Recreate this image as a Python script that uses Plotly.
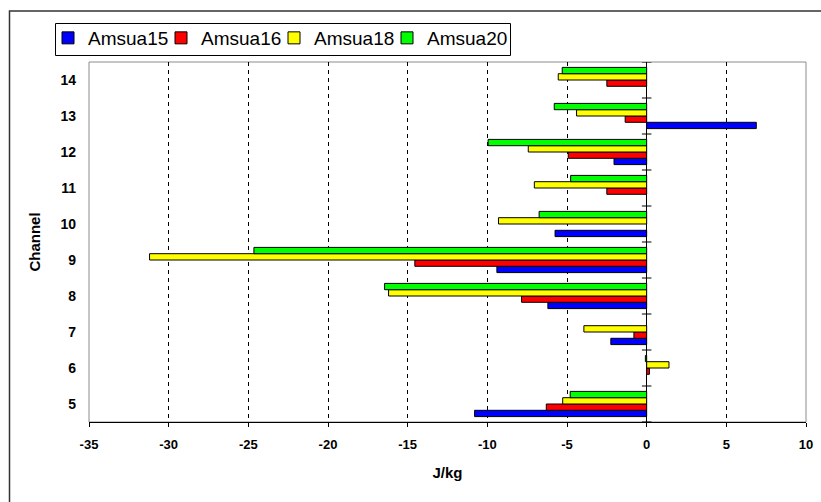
import plotly.graph_objects as go

# Channel numbers and per-satellite values (J/kg); None = no bar drawn
channels = [5, 6, 7, 8, 9, 10, 11, 12, 13, 14]
amsua15 = [-10.8, None, -2.25, -6.2, -9.4, -5.75, None, -2.05, 6.88, None]
amsua16 = [-6.3, 0.17, -0.8, -7.85, -14.55, None, -2.5, -4.92, -1.35, -2.5]
amsua18 = [-5.27, 1.4, -3.94, -16.2, -31.2, -9.3, -7.05, -7.43, -4.4, -5.55]
amsua20 = [-4.8, -0.08, None, -16.45, -24.65, -6.75, -4.77, -9.95, -5.8, -5.3]

series = [
    ("Amsua15", amsua15, "#0000FF"),
    ("Amsua16", amsua16, "#FF0000"),
    ("Amsua18", amsua18, "#FFFF00"),
    ("Amsua20", amsua20, "#00FF00"),
]

x_ticks = [-35, -30, -25, -20, -15, -10, -5, 0, 5, 10]

fig = go.Figure()
for i, (name, vals, color) in enumerate(series):
    fig.add_trace(go.Bar(
        y=channels, x=vals, orientation="h", name=name,
        marker=dict(color=color, line=dict(color="black", width=1)),
        # last legend entry gets room for its full label
        legendwidth=90 if i == len(series) - 1 else 68,
    ))

W, H = 821, 502
L, R, T, B = 89, 15, 62, 80
pw, ph = W - L - R, H - T - B


def px_x(p):
    """pixel column -> paper x"""
    return (p - L) / pw


def px_y(p):
    """pixel row -> paper y"""
    return (H - B - p) / ph


shapes = []
# plot-area frame (grey)
shapes.append(dict(type="rect", xref="paper", yref="paper", x0=0, x1=1, y0=0, y1=1,
                   line=dict(color="#8c8c8c", width=1), layer="below"))
# outer chart border
shapes.append(dict(type="rect", xref="paper", yref="paper",
                   x0=px_x(9.5), x1=px_x(W + 10), y0=px_y(H + 10), y1=px_y(11),
                   line=dict(color="#333333", width=1.5), layer="below"))
# legend box
shapes.append(dict(type="rect", xref="paper", yref="paper",
                   x0=px_x(55.5), x1=px_x(510.5), y0=px_y(55.5), y1=px_y(23.5),
                   line=dict(color="black", width=1), fillcolor="white", layer="below"))
# cross tick marks on the vertical axis at x = 0, at channel boundaries
for c in channels + [channels[0] - 1]:
    shapes.append(dict(type="line", xref="x", yref="y", x0=-0.3, x1=0.3,
                       y0=c + 0.5, y1=c + 0.5, line=dict(color="black", width=1)))

fig.update_layout(
    width=W, height=H,
    margin=dict(l=L, r=R, t=T, b=B, pad=0, autoexpand=False),
    paper_bgcolor="white", plot_bgcolor="white",
    barmode="group", bargap=0.3, bargroupgap=0,
    font=dict(family="Liberation Sans, Arial, sans-serif", color="black"),
    shapes=shapes,
    showlegend=True,
    legend=dict(
        orientation="h", x=px_x(48), y=px_y(19),
        xanchor="left", yanchor="top",
        borderwidth=0, bgcolor="rgba(0,0,0,0)",
        font=dict(size=19), traceorder="normal",
        itemwidth=30,
    ),
    xaxis=dict(
        range=[-35, 10], tickvals=x_ticks, ticktext=[str(v) for v in x_ticks],
        showgrid=True, gridcolor="black", griddash="4px,4px", gridwidth=1,
        zeroline=True, zerolinecolor="black", zerolinewidth=1,
        showline=True, linecolor="black", linewidth=1,
        ticks="outside", ticklen=4, tickcolor="black",
        tickfont=dict(size=13, weight="bold"), ticklabelstandoff=6,
        title=dict(text="J/kg", font=dict(size=15, weight="bold"), standoff=16),
        automargin=False, fixedrange=True,
    ),
    yaxis=dict(
        range=[4.5, 14.5], tickvals=channels, ticktext=[str(c) for c in channels],
        showgrid=False, zeroline=False, showline=False, ticks="",
        tickfont=dict(size=14, weight="bold"), ticklabelstandoff=12,
        title=dict(text="Channel", font=dict(size=15, weight="bold"), standoff=16),
        automargin=False, fixedrange=True,
    ),
)

fig.write_html("out.html")
